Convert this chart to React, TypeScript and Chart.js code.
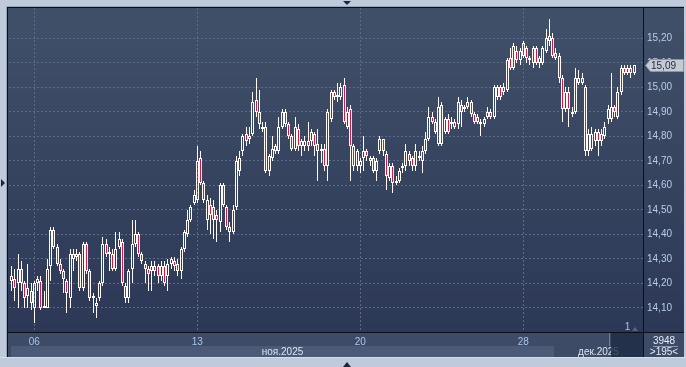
import React, { useEffect, useRef } from 'react';
import { Chart, registerables } from 'chart.js';

Chart.register(...registerables);

// Hourly candles, Nov 5 - Dec 3 2025 (index = bar number)
const opens = [
  14.21, 14.22, 14.20, 14.26, 14.20, 14.15, 14.17, 14.10, 14.20, 14.21,
  14.10, 14.10, 14.27, 14.42, 14.35, 14.28, 14.25, 14.21, 14.14, 14.30,
  14.31, 14.32, 14.18, 14.36, 14.25, 14.15, 14.11, 14.14, 14.20, 14.36,
  14.32, 14.32, 14.26, 14.35, 14.37, 14.19, 14.14, 14.26, 14.36, 14.40,
  14.32, 14.28, 14.26, 14.25, 14.27, 14.27, 14.23, 14.27, 14.23, 14.28,
  14.29, 14.28, 14.25, 14.34, 14.40, 14.46, 14.53, 14.54, 14.71, 14.61,
  14.46, 14.52, 14.51, 14.48, 14.45, 14.60, 14.51, 14.43, 14.41, 14.51,
  14.66, 14.74, 14.81, 14.79, 14.81, 14.95, 14.90, 14.83, 14.84, 14.66,
  14.71, 14.74, 14.74, 14.84, 14.90, 14.85, 14.80, 14.75, 14.83, 14.76,
  14.76, 14.78, 14.78, 14.81, 14.77, 14.74, 14.75, 14.68, 14.87, 14.98,
  14.96, 14.96, 15.01, 14.84, 14.91, 14.76, 14.68, 14.68, 14.71, 14.74,
  14.70, 14.71, 14.66, 14.74, 14.79, 14.73, 14.63, 14.68, 14.61, 14.62,
  14.67, 14.68, 14.73, 14.71, 14.68, 14.71, 14.70, 14.74, 14.79, 14.88,
  14.86, 14.77, 14.93, 14.82, 14.87, 14.85, 14.86, 14.85, 14.93, 14.91,
  14.92, 14.94, 14.89, 14.88, 14.85, 14.85, 14.88, 14.90, 14.88, 14.96,
  15.00, 14.98, 14.99, 15.12, 15.08, 15.15, 15.11, 15.13, 15.16, 15.11,
  15.10, 15.16, 15.10, 15.10, 15.15, 15.19, 15.20, 15.14, 15.13, 15.04,
  14.91, 14.98, 14.89, 14.90, 15.02, 15.02, 15.00, 14.74, 14.75, 14.78,
  14.82, 14.81, 14.80, 14.87, 14.87, 14.92, 14.88, 14.98, 15.08, 15.06,
  15.08, 15.06,
];
const highs = [
  14.27, 14.26, 14.32, 14.29, 14.21, 14.28, 14.20, 14.21, 14.23, 14.23,
  14.17, 14.30, 14.43, 14.43, 14.36, 14.30, 14.26, 14.22, 14.34, 14.34,
  14.34, 14.33, 14.37, 14.37, 14.26, 14.16, 14.14, 14.21, 14.39, 14.38,
  14.35, 14.34, 14.41, 14.41, 14.38, 14.20, 14.26, 14.46, 14.46, 14.41,
  14.33, 14.29, 14.27, 14.29, 14.29, 14.28, 14.29, 14.29, 14.30, 14.31,
  14.31, 14.30, 14.35, 14.42, 14.50, 14.52, 14.58, 14.76, 14.74, 14.62,
  14.56, 14.55, 14.54, 14.50, 14.61, 14.61, 14.52, 14.45, 14.52, 14.72,
  14.74, 14.81, 14.84, 14.84, 14.98, 15.04, 14.99, 14.86, 14.86, 14.73,
  14.80, 14.77, 14.88, 14.91, 14.91, 14.86, 14.81, 14.88, 14.85, 14.79,
  14.80, 14.86, 14.83, 14.82, 14.83, 14.77, 14.77, 14.91, 14.99, 14.99,
  15.02, 15.02, 15.04, 14.92, 14.93, 14.77, 14.75, 14.71, 14.80, 14.75,
  14.72, 14.72, 14.71, 14.80, 14.79, 14.74, 14.69, 14.69, 14.64, 14.67,
  14.69, 14.77, 14.74, 14.72, 14.77, 14.74, 14.76, 14.82, 14.92, 14.90,
  14.87, 14.96, 14.94, 14.88, 14.89, 14.88, 14.87, 14.96, 14.95, 14.93,
  14.96, 14.95, 14.90, 14.89, 14.87, 14.88, 14.92, 14.91, 15.01, 15.01,
  15.01, 15.02, 15.12, 15.16, 15.18, 15.17, 15.16, 15.19, 15.17, 15.13,
  15.17, 15.17, 15.13, 15.17, 15.24, 15.28, 15.22, 15.16, 15.14, 15.05,
  15.00, 15.00, 14.92, 15.08, 15.07, 15.06, 15.01, 14.83, 14.84, 14.83,
  14.83, 14.83, 14.86, 14.93, 15.06, 14.93, 15.00, 15.09, 15.09, 15.09,
  15.09, 15.09,
];
const lows = [
  14.17, 14.13, 14.10, 14.17, 14.10, 14.10, 14.09, 14.04, 14.17, 14.09,
  14.10, 14.10, 14.21, 14.34, 14.27, 14.24, 14.16, 14.08, 14.10, 14.25,
  14.29, 14.17, 14.17, 14.24, 14.13, 14.08, 14.06, 14.13, 14.19, 14.31,
  14.25, 14.25, 14.25, 14.34, 14.19, 14.12, 14.12, 14.20, 14.35, 14.31,
  14.28, 14.20, 14.17, 14.17, 14.23, 14.20, 14.21, 14.19, 14.17, 14.26,
  14.25, 14.23, 14.22, 14.33, 14.39, 14.45, 14.52, 14.53, 14.60, 14.53,
  14.42, 14.40, 14.38, 14.37, 14.41, 14.51, 14.42, 14.37, 14.40, 14.50,
  14.64, 14.72, 14.76, 14.77, 14.80, 14.88, 14.83, 14.82, 14.65, 14.64,
  14.70, 14.73, 14.73, 14.83, 14.84, 14.79, 14.74, 14.74, 14.74, 14.72,
  14.74, 14.74, 14.76, 14.72, 14.62, 14.69, 14.66, 14.62, 14.86, 14.95,
  14.94, 14.95, 14.85, 14.83, 14.62, 14.66, 14.66, 14.65, 14.66, 14.70,
  14.68, 14.65, 14.62, 14.73, 14.72, 14.58, 14.62, 14.57, 14.60, 14.61,
  14.65, 14.66, 14.68, 14.66, 14.66, 14.70, 14.65, 14.73, 14.78, 14.85,
  14.81, 14.76, 14.76, 14.81, 14.81, 14.83, 14.83, 14.83, 14.84, 14.90,
  14.91, 14.88, 14.85, 14.85, 14.80, 14.84, 14.87, 14.87, 14.87, 14.95,
  14.95, 14.97, 14.98, 15.07, 15.07, 15.10, 15.09, 15.12, 15.10, 15.09,
  15.08, 15.09, 15.08, 15.09, 15.14, 15.17, 15.12, 15.11, 15.02, 14.86,
  14.90, 14.84, 14.88, 14.89, 15.01, 15.01, 14.72, 14.72, 14.74, 14.76,
  14.72, 14.76, 14.79, 14.85, 14.86, 14.88, 14.87, 14.97, 15.05, 15.05,
  15.04, 15.05,
];
const closes = [
  14.23, 14.18, 14.26, 14.20, 14.14, 14.18, 14.12, 14.20, 14.22, 14.10,
  14.11, 14.26, 14.42, 14.35, 14.28, 14.25, 14.22, 14.16, 14.32, 14.32,
  14.32, 14.18, 14.36, 14.25, 14.14, 14.14, 14.12, 14.20, 14.36, 14.32,
  14.33, 14.26, 14.34, 14.38, 14.20, 14.14, 14.25, 14.36, 14.40, 14.32,
  14.29, 14.26, 14.24, 14.27, 14.25, 14.23, 14.27, 14.20, 14.28, 14.30,
  14.27, 14.25, 14.34, 14.41, 14.46, 14.51, 14.56, 14.70, 14.61, 14.54,
  14.54, 14.48, 14.46, 14.46, 14.60, 14.52, 14.43, 14.41, 14.50, 14.70,
  14.71, 14.80, 14.78, 14.80, 14.94, 14.90, 14.85, 14.84, 14.66, 14.72,
  14.75, 14.76, 14.84, 14.90, 14.85, 14.80, 14.75, 14.84, 14.76, 14.78,
  14.78, 14.76, 14.82, 14.76, 14.74, 14.75, 14.68, 14.90, 14.98, 14.96,
  14.97, 15.00, 14.86, 14.90, 14.76, 14.68, 14.74, 14.70, 14.74, 14.72,
  14.71, 14.66, 14.70, 14.79, 14.74, 14.64, 14.68, 14.61, 14.62, 14.66,
  14.68, 14.74, 14.70, 14.68, 14.74, 14.72, 14.74, 14.79, 14.88, 14.86,
  14.82, 14.92, 14.77, 14.87, 14.82, 14.86, 14.84, 14.94, 14.90, 14.92,
  14.94, 14.89, 14.86, 14.86, 14.86, 14.87, 14.90, 14.88, 15.00, 15.00,
  14.96, 15.00, 15.11, 15.08, 15.17, 15.11, 15.15, 15.18, 15.12, 15.12,
  15.16, 15.10, 15.12, 15.16, 15.20, 15.21, 15.13, 15.12, 15.04, 14.91,
  14.98, 14.91, 14.90, 15.04, 15.04, 15.04, 14.74, 14.81, 14.81, 14.82,
  14.78, 14.78, 14.84, 14.91, 14.92, 14.90, 14.98, 15.08, 15.06, 15.08,
  15.06, 15.09,
];

const xTickIndex = [7, 57, 107, 157];
const xTickLabels = ['06', '13', '20', '28'];
const yTicks = [14.1, 14.2, 14.3, 14.4, 14.5, 14.6, 14.7, 14.8, 14.9, 15.0, 15.1, 15.2];
const yMin = 14.002;
const yMax = 15.324;
const xMin = -0.77;
const xMax = 193.7;
const monthLabels = ['ноя.2025', 'дек.2025'];
const monthStartIndex = [xMin, 166.5];
const barsTotal = '3948';
const barsVisible = '>195<';
const pageNo = '1';

const RED = '#dc1443';
const WHITE = '#fffaf4';
const FONT = 'Liberation Sans, Arial, sans-serif';

const fmt = (v: number) => v.toFixed(2).replace('.', ',');

const snapPlugin = {
  id: 'snap',
  beforeDatasetsDraw(chart: any) {
    chart.data.datasets.forEach((_: any, di: number) => {
      const meta = chart.getDatasetMeta(di);
      meta.data.forEach((el: any) => {
        el.x = Math.floor(el.x) + 0.5;
        el.y = Math.round(el.y);
        el.base = Math.round(el.base);
      });
    });
  },
};

const framePlugin = {
  id: 'frame',
  beforeDraw(chart: any) {
    const { ctx, chartArea: ca, width, height } = chart;
    const xs = chart.scales.x;
    ctx.save();
    ctx.fillStyle = '#bfcbdb';
    ctx.fillRect(0, 0, width, height);
    const g = ctx.createLinearGradient(0, ca.top, 0, ca.bottom);
    g.addColorStop(0, '#415069');
    g.addColorStop(1, '#2c3856');
    ctx.fillStyle = g;
    ctx.fillRect(8, 8, 676, ca.bottom - 8);
    // bottom panel
    ctx.fillStyle = '#3d4b66';
    ctx.fillRect(8, ca.bottom, 676, 25);
    const mb = Math.round(xs.getPixelForValue(monthStartIndex[1]));
    ctx.fillStyle = '#4b5a76';
    ctx.fillRect(11, ca.bottom + 14, mb - 11, 11);
    ctx.restore();
  },
  afterDraw(chart: any) {
    const { ctx, chartArea: ca } = chart;
    const xs = chart.scales.x;
    const ys = chart.scales.y;
    ctx.save();
    // month labels
    ctx.font = `10px ${FONT}`;
    ctx.textAlign = 'center';
    ctx.textBaseline = 'middle';
    ctx.fillStyle = '#dbe4f1';
    const bounds = [11, Math.round(xs.getPixelForValue(monthStartIndex[1])), ca.right];
    monthLabels.forEach((m, k) => {
      ctx.fillText(m, (bounds[k] + bounds[k + 1]) / 2, ca.bottom + 20);
    });
    // scroller thumb
    ctx.fillStyle = 'rgba(30,42,66,0.78)';
    ctx.fillRect(611, ca.bottom + 1, ca.right - 611, 24);
    ctx.fillStyle = '#6d7c98';
    ctx.fillRect(609, ca.bottom + 1, 1, 13);
    // lines
    ctx.fillStyle = '#0b0f18';
    ctx.fillRect(8, 7, 676, 1);
    ctx.fillRect(7, 7, 1, 350);
    ctx.fillRect(ca.right, 8, 1, 349);
    ctx.fillRect(8, ca.bottom, 676, 1);
    ctx.fillStyle = '#98a6ba';
    ctx.fillRect(6, 6, 679, 1);
    ctx.fillRect(6, 6, 1, 352);
    // right/bottom frame
    ctx.fillStyle = '#bfcbdb';
    ctx.fillRect(684, 0, 2, 367);
    ctx.fillRect(0, 357, 686, 10);
    ctx.fillStyle = '#d6dee9';
    ctx.fillRect(0, 357, 686, 1);
    // triangles
    ctx.fillStyle = '#1d2840';
    ctx.beginPath();
    ctx.moveTo(343, 1); ctx.lineTo(351, 1); ctx.lineTo(347, 5); ctx.closePath(); ctx.fill();
    ctx.beginPath();
    ctx.moveTo(1, 179); ctx.lineTo(5, 183); ctx.lineTo(1, 187); ctx.closePath(); ctx.fill();
    ctx.beginPath();
    ctx.moveTo(343, 367); ctx.lineTo(351, 367); ctx.lineTo(347, 362); ctx.closePath(); ctx.fill();
    // page number
    ctx.fillStyle = '#a6c6f0';
    ctx.font = `10px ${FONT}`;
    ctx.fillText(pageNo, 627.5, ca.bottom - 5);
    ctx.fillStyle = '#56657f';
    ctx.beginPath();
    ctx.moveTo(632, 331); ctx.lineTo(638, 331); ctx.lineTo(635, 327); ctx.closePath(); ctx.fill();
    // bar counter
    ctx.fillStyle = '#e6edf7';
    ctx.fillText(barsTotal, 664, ca.bottom + 9);
    ctx.fillText(barsVisible, 664, ca.bottom + 20);
    ctx.fillStyle = '#8797b2';
    ctx.fillRect(653, ca.bottom + 14, 25, 1);
    // last price tag
    const last = closes[closes.length - 1];
    const py = Math.round(ys.getPixelForValue(last));
    ctx.fillStyle = '#c6cad2';
    ctx.strokeStyle = '#8d95a4';
    ctx.beginPath();
    ctx.moveTo(645.5, py + 0.5);
    ctx.lineTo(650.5, py - 5.5);
    ctx.lineTo(683.5, py - 5.5);
    ctx.lineTo(683.5, py + 6.5);
    ctx.lineTo(650.5, py + 6.5);
    ctx.closePath();
    ctx.fill();
    ctx.stroke();
    ctx.fillStyle = '#1b2841';
    ctx.textAlign = 'left';
    ctx.fillText(fmt(last), 651, py + 1);
    ctx.restore();
  },
};

export default function App() {
  const ref = useRef<HTMLCanvasElement>(null);
  useEffect(() => {
    const canvas = ref.current;
    if (!canvas) return;
    const idx = closes.map((_, i) => i);
    const top = idx.map((i) => Math.max(opens[i], closes[i]));
    const bot = idx.map((i) => Math.min(opens[i], closes[i]));
    const chart = new Chart(canvas, {
      type: 'bar',
      data: {
        datasets: [
          {
            label: 'body',
            data: idx.map((i) => ({ x: i, y: [bot[i], top[i]] })) as any,
            backgroundColor: idx.map((i) => (closes[i] < opens[i] ? RED : 'rgba(0,0,0,0)')),
            borderColor: WHITE,
            borderWidth: 1,
            borderSkipped: false,
            inflateAmount: 0,
            barThickness: 3,
            grouped: false,
          } as any,
          {
            label: 'upper',
            data: idx.map((i) => ({ x: i, y: [top[i], highs[i]] })) as any,
            backgroundColor: WHITE,
            borderWidth: 0,
            inflateAmount: 0,
            barThickness: 1,
            grouped: false,
          } as any,
          {
            label: 'lower',
            data: idx.map((i) => ({ x: i, y: [lows[i], bot[i]] })) as any,
            backgroundColor: WHITE,
            borderWidth: 0,
            inflateAmount: 0,
            barThickness: 1,
            grouped: false,
          } as any,
        ],
      },
      options: {
        animation: false,
        responsive: false,
        maintainAspectRatio: false,
        events: [],
        layout: { padding: { left: 9, top: 8, right: 0, bottom: 0 } },
        plugins: { legend: { display: false }, tooltip: { enabled: false } },
        scales: {
          x: {
            type: 'linear',
            position: 'bottom',
            offset: false,
            min: xMin,
            max: xMax,
            afterBuildTicks: (s: any) => {
              s.ticks = xTickIndex.map((v) => ({ value: v }));
            },
            afterFit: (s: any) => {
              s.height = 35;
              s.paddingLeft = 0;
              s.paddingRight = 0;
            },
            grid: { color: '#5a6a88', lineWidth: 1, drawTicks: false, offset: false },
            border: { display: false, dash: [2, 2] },
            ticks: {
              color: '#a9c6ee',
              font: { family: FONT, size: 10 },
              padding: 4,
              maxRotation: 0,
              autoSkip: false,
              callback: (v: any) => {
                const k = xTickIndex.indexOf(Number(v));
                return k >= 0 ? xTickLabels[k] : '';
              },
            },
          } as any,
          y: {
            type: 'linear',
            position: 'right',
            min: yMin,
            max: yMax,
            afterBuildTicks: (s: any) => {
              s.ticks = yTicks.map((v) => ({ value: v }));
            },
            afterFit: (s: any) => {
              s.width = 43;
              s.paddingTop = 0;
              s.paddingBottom = 0;
            },
            grid: { color: '#5a6a88', lineWidth: 1, drawTicks: false },
            border: { display: false, dash: [2, 2] },
            ticks: {
              color: '#b7cdea',
              font: { family: FONT, size: 10 },
              padding: 4,
              autoSkip: false,
              callback: (v: any) => fmt(Number(v)),
            },
          } as any,
        },
      },
      plugins: [framePlugin, snapPlugin],
    } as any);
    return () => chart.destroy();
  }, []);
  return (
    <div style={{ position: 'fixed', left: 0, top: 0, width: 686, height: 367 }}>
      <canvas ref={ref} width={686} height={367} style={{ display: 'block' }} />
    </div>
  );
}
